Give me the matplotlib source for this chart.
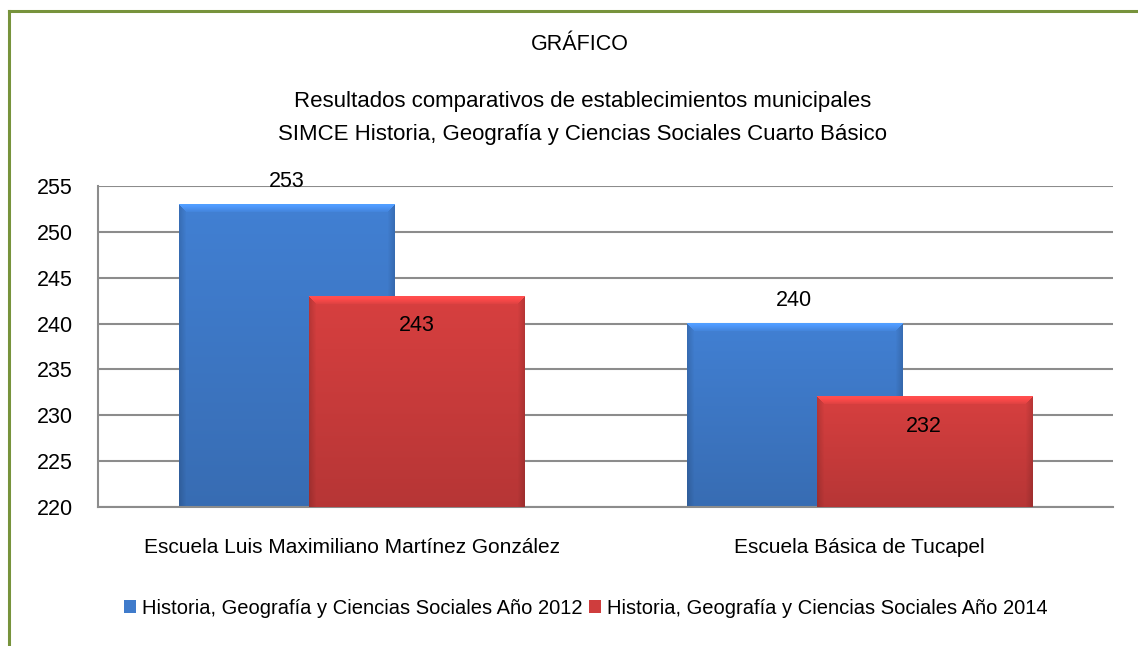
import numpy as np
import matplotlib.pyplot as plt
from matplotlib.colors import to_rgb

plt.rcParams['font.family'] = ['Liberation Sans Narrow', 'Liberation Sans', 'DejaVu Sans']

# data
escuelas = ["Escuela Luis Maximiliano Martínez González", "Escuela Básica de Tucapel"]
serie_2012 = [253, 240]
serie_2014 = [243, 232]
nombres = ["Historia, Geografía y Ciencias Sociales Año 2012",
           "Historia, Geografía y Ciencias Sociales Año 2014"]
colores = ["#3F7BCB", "#CF3D3D"]
yticks = [220, 225, 230, 235, 240, 245, 250, 255]

W, H = 1138, 646
fig = plt.figure(figsize=(W / 100, H / 100), dpi=100)

# green frame (left and top only)
fig.add_artist(plt.Line2D([8.5 / W, 8.5 / W], [0, 1 - 11 / H], color="#77933C", lw=2.2))
fig.add_artist(plt.Line2D([8.5 / W, 1], [1 - 11 / H, 1 - 11 / H], color="#77933C", lw=2.2))

ax = fig.add_axes([98 / W, (H - 507) / H, (1113 - 98) / W, (507 - 186) / H])
ax.set_ylim(220, 255)
ax.set_xlim(-0.5, 1.5)
ax.set_yticks(yticks)
ax.set_yticklabels([str(t) for t in yticks], fontsize=15.5)
ax.set_xticks(range(len(escuelas)))
ax.set_xticklabels(escuelas, fontsize=15)
ax.tick_params(axis="y", length=0, pad=18)
ax.tick_params(axis="x", length=0, pad=22)
ax.yaxis.grid(True, color="#8C8C8C", lw=1.5)
ax.set_axisbelow(True)
for s in ["top", "right"]:
    ax.spines[s].set_visible(False)
for s in ["left", "bottom"]:
    ax.spines[s].set_color("#8C8C8C")
    ax.spines[s].set_linewidth(1.5)

x = np.arange(len(escuelas))
ancho = 0.424
desp = 0.128


def shade(patch, color):
    # bevel-like gradient painted inside the bar, one row/col per pixel
    base = np.array(to_rgb(color))
    x0, y0 = patch.get_x(), patch.get_y()
    x1, y1 = x0 + patch.get_width(), y0 + patch.get_height()
    (px0, py0), (px1, py1) = ax.transData.transform([(x0, 220), (x1, y1)])
    nx, ny = int(round(px1 - px0)), int(round(py1 - py0))
    yy = np.arange(ny)[:, None]  # 0 = top
    xx = np.arange(nx)[None, :]
    f = 1.04 - 0.16 * yy / ny
    f = f + 0 * xx
    side = np.minimum(xx, nx - 1 - xx)
    f = np.where(side < 7, f * (0.86 + 0.02 * side), f)
    top = (yy < 8) & (side >= yy)
    f = np.where(top, 1.3 - 0.03 * yy, f)
    img = np.clip(base[None, None, :] * f[:, :, None], 0, 1)
    ax.imshow(img, extent=[x0, x1, 220, y1], aspect="auto",
              zorder=patch.get_zorder() + 0.1, interpolation="nearest")


b1 = ax.bar(x - desp, serie_2012, ancho, bottom=0, color=colores[0], label=nombres[0], zorder=2)
b2 = ax.bar(x + desp, serie_2014, ancho, bottom=0, color=colores[1], label=nombres[1], zorder=3)
for p in b1:
    shade(p, colores[0])
for p in b2:
    shade(p, colores[1])
ax.set_xlim(-0.5, 1.5)
ax.set_ylim(220, 255)

for xi, v in zip(x - desp, serie_2012):
    ax.text(xi, v + 2.5, str(v), ha="center", va="center", fontsize=15.5, zorder=5)
for xi, v in zip(x + desp, serie_2014):
    ax.text(xi, v - 3.2, str(v), ha="center", va="center", fontsize=15.5, zorder=5)

fig.text(580 / W, 1 - 45 / H, "GRÁFICO", ha="center", va="center", fontsize=15.5)
fig.text(583 / W, 1 - 118 / H,
         "Resultados comparativos de establecimientos municipales\n"
         "SIMCE Historia, Geografía y Ciencias Sociales Cuarto Básico",
         ha="center", va="center", fontsize=16, linespacing=1.7)

leg = fig.legend(loc="center", bbox_to_anchor=(586 / W, 1 - 608 / H), ncol=2, frameon=False,
                 fontsize=14.5, handlelength=0.6, handleheight=0.6, handletextpad=0.3,
                 columnspacing=0.3)

fig.savefig("out.png", dpi=100)
